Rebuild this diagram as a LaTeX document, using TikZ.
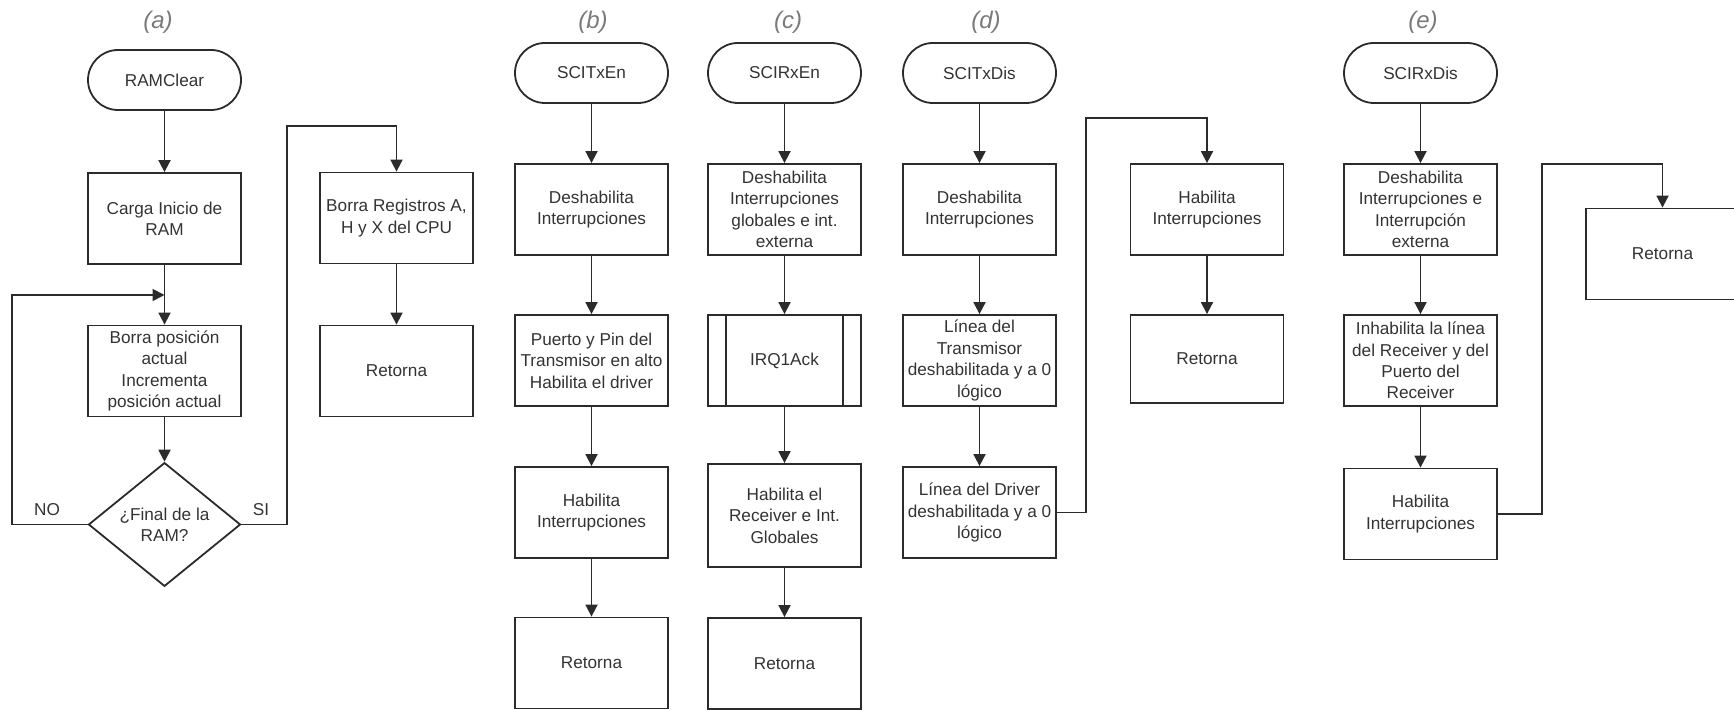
\documentclass[tikz,border=0pt]{standalone}
\usepackage{fontspec}
\setmainfont{Liberation Sans}
\usetikzlibrary{shapes.geometric, arrows.meta}

\definecolor{trazo}{HTML}{2B2B2B}
\definecolor{texto}{HTML}{333333}
\definecolor{rotulo}{HTML}{7A7A7A}

\tikzset{
  proceso/.style={draw=trazo, line width=0.9pt, rectangle, minimum width=76.5pt, minimum height=45.5pt,
    inner sep=0pt, align=center, text=texto, font=\fontsize{8.6}{10.7}\selectfont},
  terminal/.style={proceso, rounded corners=15pt, minimum height=30pt},
  decision/.style={proceso, diamond, minimum width=76pt, minimum height=45.5pt},
  etiqueta/.style={text=rotulo, font=\fontsize{12}{14}\selectfont\itshape},
  rotsal/.style={text=texto, font=\fontsize{8.6}{10.7}\selectfont},
  flecha/.style={draw=trazo, line width=0.9pt, -{Triangle[width=6pt,length=6pt]}}
}

\begin{document}
\begin{tikzpicture}[x=0.5pt, y=-0.5pt]
  \clip (0,0) rectangle (1734,710);

  % (a) RAMClear
  \node[etiqueta] (lbla) at (158,22) {(a)};
  \node[terminal] (ramclear) at (164.5,80) {RAMClear};
  \node[proceso] (carga) at (164.5,218.5) {Carga Inicio de\\RAM};
  \node[proceso] (borra) at (164.5,371) {Borra posición\\actual\\Incrementa\\posición actual};
  \node[decision] (fin) at (164.5,524.5) {¿Final de la\\RAM?};
  \node[proceso] (reg) at (396.5,218) {Borra Registros A,\\H y X del CPU};
  \node[proceso] (reta) at (396.5,371) {Retorna};
  \node[rotsal] (no) at (47,510) {NO};
  \node[rotsal] (si) at (261,510) {SI};
  \coordinate (junta) at (164.5,295);

  \draw[flecha] (ramclear) -- (carga);
  \draw[flecha] (carga) -- (borra);
  \draw[flecha] (borra) -- (fin);
  \draw[flecha] (fin.west) -| (12,295) -- (junta);
  \draw[flecha] (fin.east) -| (287,126) -| (reg.north);
  \draw[flecha] (reg) -- (reta);

  % (b) SCITxEn
  \node[etiqueta] (lblb) at (593,22) {(b)};
  \node[terminal] (txen) at (591.5,73) {SCITxEn};
  \node[proceso] (b1) at (591.5,209.5) {Deshabilita\\Interrupciones};
  \node[proceso] (b2) at (591.5,360.5) {Puerto y Pin del\\Transmisor en alto\\Habilita el driver};
  \node[proceso] (b3) at (591.5,512.5) {Habilita\\Interrupciones};
  \node[proceso] (b4) at (591.5,663) {Retorna};
  \draw[flecha] (txen) -- (b1);
  \draw[flecha] (b1) -- (b2);
  \draw[flecha] (b2) -- (b3);
  \draw[flecha] (b3) -- (b4);

  % (c) SCIRxEn
  \node[etiqueta] (lblc) at (788,22) {(c)};
  \node[terminal] (rxen) at (784.5,73) {SCIRxEn};
  \node[proceso] (c1) at (784.5,209.5) {Deshabilita\\Interrupciones\\globales e int.\\externa};
  \node[proceso] (irq) at (784.5,360.5) {IRQ1Ack};
  \draw[draw=trazo, line width=0.9pt] ([xshift=9.5pt]irq.north west) -- ([xshift=9.5pt]irq.south west);
  \draw[draw=trazo, line width=0.9pt] ([xshift=-9.5pt]irq.north east) -- ([xshift=-9.5pt]irq.south east);
  \node[proceso, minimum height=51.5pt] (c3) at (784.5,515.5) {Habilita el\\Receiver e Int.\\Globales};
  \node[proceso] (c4) at (784.5,663.5) {Retorna};
  \draw[flecha] (rxen) -- (c1);
  \draw[flecha] (c1) -- (irq);
  \draw[flecha] (irq) -- (c3);
  \draw[flecha] (c3) -- (c4);

  % (d) SCITxDis
  \node[etiqueta] (lbld) at (986,22) {(d)};
  \node[terminal] (txdis) at (979.5,73) {SCITxDis};
  \node[proceso] (d1) at (979.5,209.5) {Deshabilita\\Interrupciones};
  \node[proceso] (d2) at (979.5,360.5) {Línea del\\Transmisor\\deshabilitada y a 0\\lógico};
  \node[proceso] (d3) at (979.5,512.5) {Línea del Driver\\deshabilitada y a 0\\lógico};
  \node[proceso] (d4) at (1207,209.5) {Habilita\\Interrupciones};
  \node[proceso, minimum height=44pt] (d5) at (1207,359) {Retorna};
  \draw[flecha] (txdis) -- (d1);
  \draw[flecha] (d1) -- (d2);
  \draw[flecha] (d2) -- (d3);
  \draw[flecha] (d3.east) -| (1086,118) -| (d4.north);
  \draw[flecha] (d4) -- (d5);

  % (e) SCIRxDis
  \node[etiqueta] (lble) at (1423,22) {(e)};
  \node[terminal] (rxdis) at (1420.5,73) {SCIRxDis};
  \node[proceso] (e1) at (1420.5,209.5) {Deshabilita\\Interrupciones e\\Interrupción\\externa};
  \node[proceso] (e2) at (1420.5,360.5) {Inhabilita la línea\\del Receiver y del\\Puerto del\\Receiver};
  \node[proceso] (e3) at (1420.5,514) {Habilita\\Interrupciones};
  \node[proceso] (e4) at (1662.5,254) {Retorna};
  \draw[flecha] (rxdis) -- (e1);
  \draw[flecha] (e1) -- (e2);
  \draw[flecha] (e2) -- (e3);
  \draw[flecha] (e3.east) -| (1542,164) -| (e4.north);
\end{tikzpicture}
\end{document}
